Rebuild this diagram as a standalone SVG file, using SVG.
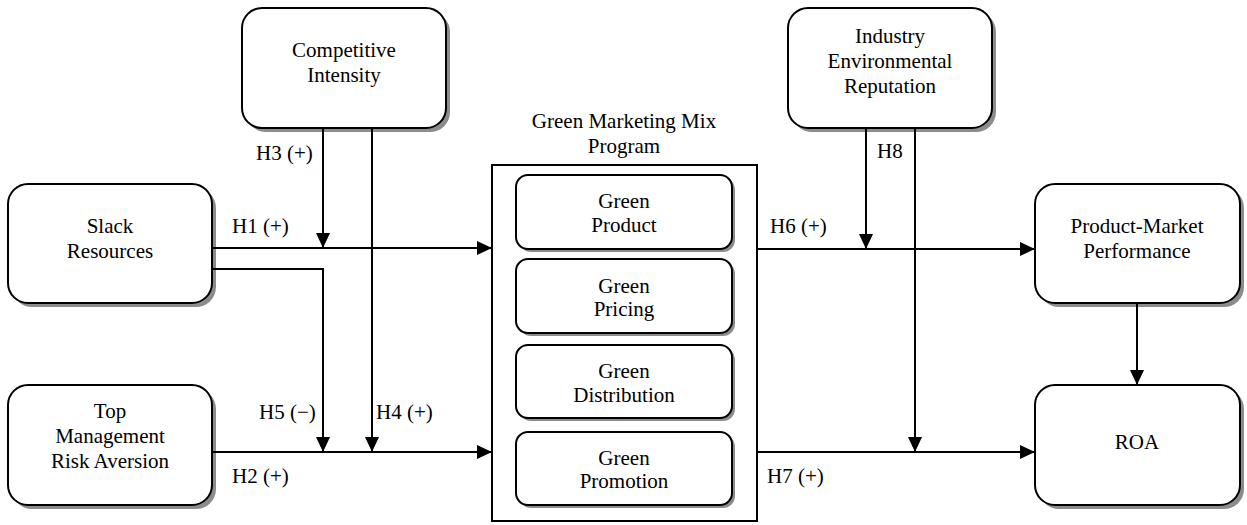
<svg xmlns="http://www.w3.org/2000/svg" width="1247" height="525" viewBox="0 0 1247 525">
<style>
.box{fill:#fff;stroke:#000;stroke-width:2}
.sh{fill:#8c8c8c;stroke:none}
.ln{fill:none;stroke:#000;stroke-width:2}
</style>
<defs>
<marker id="ah" markerUnits="userSpaceOnUse" markerWidth="16" markerHeight="14" viewBox="0 0 16 14" refX="15" refY="7" orient="auto">
<path d="M0,0 L15,7 L0,14 Z" fill="#000"/>
</marker>
</defs>
<rect width="1247" height="525" fill="#fff"/>

<g id="competitive-intensity">
<rect class="sh" x="246" y="12" width="204" height="120" rx="20"/>
<rect class="box" x="242" y="8" width="204" height="120" rx="20"/>
<text font-family="Liberation Serif" font-size="21" text-anchor="middle" x="344" y="57">Competitive</text>
<text font-family="Liberation Serif" font-size="21" text-anchor="middle" x="344" y="82">Intensity</text>
</g>

<g id="industry-environmental-reputation">
<rect class="sh" x="792" y="12" width="204" height="120" rx="20"/>
<rect class="box" x="788" y="8" width="204" height="120" rx="20"/>
<text font-family="Liberation Serif" font-size="21" text-anchor="middle" x="890" y="43">Industry</text>
<text font-family="Liberation Serif" font-size="21" text-anchor="middle" x="890" y="68">Environmental</text>
<text font-family="Liberation Serif" font-size="21" text-anchor="middle" x="890" y="93">Reputation</text>
</g>

<g id="slack-resources">
<rect class="sh" x="12" y="188" width="204" height="119" rx="20"/>
<rect class="box" x="8" y="184" width="204" height="119" rx="20"/>
<text font-family="Liberation Serif" font-size="21" text-anchor="middle" x="110" y="233">Slack</text>
<text font-family="Liberation Serif" font-size="21" text-anchor="middle" x="110" y="258">Resources</text>
</g>

<g id="top-management-risk-aversion">
<rect class="sh" x="12" y="389" width="204" height="120" rx="20"/>
<rect class="box" x="8" y="385" width="204" height="120" rx="20"/>
<text font-family="Liberation Serif" font-size="21" text-anchor="middle" x="110" y="418">Top</text>
<text font-family="Liberation Serif" font-size="21" text-anchor="middle" x="110" y="443">Management</text>
<text font-family="Liberation Serif" font-size="21" text-anchor="middle" x="110" y="468">Risk Aversion</text>
</g>

<g id="green-marketing-mix-program">
<text font-family="Liberation Serif" font-size="21" text-anchor="middle" x="624" y="128">Green Marketing Mix</text>
<text font-family="Liberation Serif" font-size="21" text-anchor="middle" x="624" y="153">Program</text>
<rect x="492" y="165" width="265" height="356" fill="#fff" stroke="#000" stroke-width="2"/>
</g>

<g id="green-product">
<rect class="sh" x="519" y="178" width="216" height="74" rx="12"/>
<rect class="box" x="516" y="175" width="216" height="74" rx="12"/>
<text font-family="Liberation Serif" font-size="21" text-anchor="middle" x="624" y="208">Green</text>
<text font-family="Liberation Serif" font-size="21" text-anchor="middle" x="624" y="232">Product</text>
</g>

<g id="green-pricing">
<rect class="sh" x="519" y="262" width="216" height="74" rx="12"/>
<rect class="box" x="516" y="259" width="216" height="74" rx="12"/>
<text font-family="Liberation Serif" font-size="21" text-anchor="middle" x="624" y="293">Green</text>
<text font-family="Liberation Serif" font-size="21" text-anchor="middle" x="624" y="316">Pricing</text>
</g>

<g id="green-distribution">
<rect class="sh" x="519" y="348" width="216" height="73" rx="12"/>
<rect class="box" x="516" y="345" width="216" height="73" rx="12"/>
<text font-family="Liberation Serif" font-size="21" text-anchor="middle" x="624" y="378">Green</text>
<text font-family="Liberation Serif" font-size="21" text-anchor="middle" x="624" y="402">Distribution</text>
</g>

<g id="green-promotion">
<rect class="sh" x="519" y="435" width="216" height="73" rx="12"/>
<rect class="box" x="516" y="432" width="216" height="73" rx="12"/>
<text font-family="Liberation Serif" font-size="21" text-anchor="middle" x="624" y="465">Green</text>
<text font-family="Liberation Serif" font-size="21" text-anchor="middle" x="624" y="488">Promotion</text>
</g>

<g id="product-market-performance">
<rect class="sh" x="1039" y="188" width="205" height="119" rx="20"/>
<rect class="box" x="1035" y="184" width="205" height="119" rx="20"/>
<text font-family="Liberation Serif" font-size="21" text-anchor="middle" x="1137" y="233">Product-Market</text>
<text font-family="Liberation Serif" font-size="21" text-anchor="middle" x="1137" y="258">Performance</text>
</g>

<g id="roa">
<rect class="sh" x="1039" y="389" width="205" height="120" rx="20"/>
<rect class="box" x="1035" y="385" width="205" height="120" rx="20"/>
<text font-family="Liberation Serif" font-size="21" text-anchor="middle" x="1137" y="449">ROA</text>
</g>

<g id="connectors">
<path class="ln" d="M212,248 H492" marker-end="url(#ah)"/>
<path class="ln" d="M212,269 H323 V452" marker-end="url(#ah)"/>
<path class="ln" d="M323,128 V248" marker-end="url(#ah)"/>
<path class="ln" d="M372,128 V452" marker-end="url(#ah)"/>
<path class="ln" d="M212,452 H492" marker-end="url(#ah)"/>
<path class="ln" d="M757,249 H1035" marker-end="url(#ah)"/>
<path class="ln" d="M866,128 V249" marker-end="url(#ah)"/>
<path class="ln" d="M915,128 V452" marker-end="url(#ah)"/>
<path class="ln" d="M757,452 H1035" marker-end="url(#ah)"/>
<path class="ln" d="M1137,303 V385" marker-end="url(#ah)"/>
</g>

<g id="labels">
<text font-family="Liberation Serif" font-size="21" x="256" y="160">H3 (+)</text>
<text font-family="Liberation Serif" font-size="21" x="232" y="233">H1 (+)</text>
<text font-family="Liberation Serif" font-size="21" x="259" y="419">H5 (−)</text>
<text font-family="Liberation Serif" font-size="21" x="376" y="419">H4 (+)</text>
<text font-family="Liberation Serif" font-size="21" x="232" y="483">H2 (+)</text>
<text font-family="Liberation Serif" font-size="21" x="770" y="233">H6 (+)</text>
<text font-family="Liberation Serif" font-size="21" x="877" y="158">H8</text>
<text font-family="Liberation Serif" font-size="21" x="767" y="483">H7 (+)</text>
</g>
</svg>
